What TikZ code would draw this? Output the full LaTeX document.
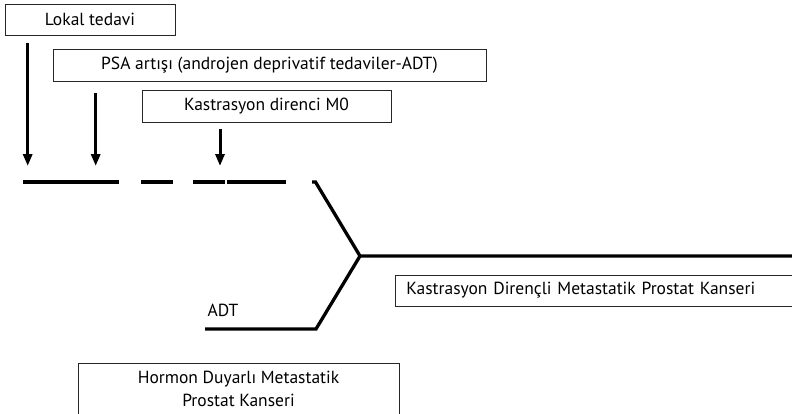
\documentclass[tikz,border=0pt]{standalone}
\usepackage{fontspec}
\setmainfont{PT Sans}
\usetikzlibrary{arrows.meta}
\begin{document}
\begin{tikzpicture}[x=1pt,y=-1pt,
  lbl/.style={font=\fontsize{17.5}{23}\selectfont, inner sep=0pt},
  box/.style={lbl, draw=black!85, line width=0.9pt},
  heavy/.style={line width=3.3pt},
  arr/.style={line width=3pt, -{Triangle[width=9pt,length=12pt]}}]
\useasboundingbox (0,0) rectangle (792,413);
\clip (0,0) rectangle (792,413);
% boxes
\node[box, minimum width=170pt, minimum height=31pt] (lokal) at (90,19.5) {Lokal tedavi};
\node[box, minimum width=433pt, minimum height=32pt] (psa) at (269.5,65) {PSA artışı (androjen deprivatif tedaviler-ADT)};
\node[box, minimum width=249pt, minimum height=32pt] (m0) at (266.5,106) {Kastrasyon direnci M0};
\node[box, anchor=west, minimum height=31pt, text width=383pt, inner xsep=11pt, align=left] (kdmpk) at (395,290.5) {Kastrasyon Dirençli Metastatik Prostat Kanseri};
\node[box, minimum width=321pt, minimum height=51pt, align=center] (hdmpk) at (238.5,388.5) {Hormon Duyarlı Metastatik\\Prostat Kanseri};
\node[lbl] (adt) at (223,310) {ADT};
% arrow coordinates
\coordinate (a1s) at (27.7,43);  \coordinate (a1e) at (27.7,166);
\coordinate (a2s) at (95.7,93);  \coordinate (a2e) at (95.7,166);
\coordinate (a3s) at (220,129);  \coordinate (a3e) at (220,166);
\draw[arr] (a1s) -- (a1e);
\draw[arr] (a2s) -- (a2e);
\draw[arr] (a3s) -- (a3e);
% timeline
\coordinate (t1) at (23,182);  \coordinate (t2) at (119,182);
\coordinate (t3) at (141,182); \coordinate (t4) at (173,182);
\coordinate (t5) at (193,182); \coordinate (t6) at (225,182);
\coordinate (t7) at (227,182); \coordinate (t8) at (286,182);
\coordinate (s1) at (312,182); \coordinate (s2) at (315.5,182);
\coordinate (v) at (360,256);  \coordinate (r) at (800,256);
\coordinate (b1) at (316,329); \coordinate (b2) at (205,329);
\draw[heavy] (t1) -- (t2);
\draw[heavy] (t3) -- (t4);
\draw[heavy] (t5) -- (t6);
\draw[heavy] (t7) -- (t8);
\draw[heavy, line join=miter] (s1) -- (s2) -- (v) -- (r);
\draw[heavy, line join=miter] (v) -- (b1) -- (b2);
\end{tikzpicture}
\end{document}
